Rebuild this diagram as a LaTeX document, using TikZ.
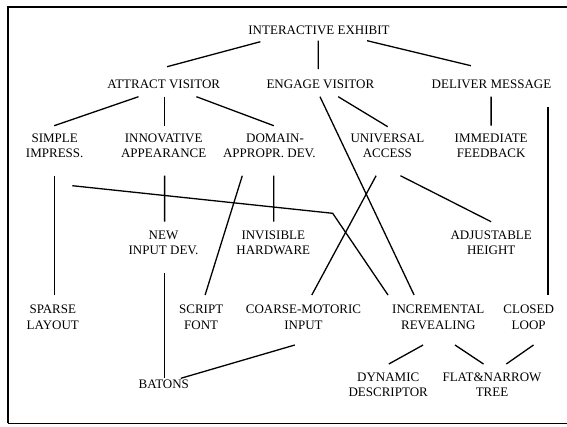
\documentclass[tikz,border=0pt]{standalone}
\usepackage{fontspec}
\setmainfont{Liberation Serif}
\newcommand\stt{\rule[-5.5pt]{0pt}{15.3pt}}
\begin{document}
\begin{tikzpicture}[x=1pt,y=-1pt,
  lbl/.style={inner sep=0pt, align=center, font=\fontsize{13}{15.3}\selectfont},
  link/.style={line width=1.3pt},
  frameline/.style={line width=2pt}]
\useasboundingbox (0,0) rectangle (567,426);
% frame
\coordinate (ftr) at (567,6.5);
\coordinate (ftl) at (7.5,6.5);
\coordinate (fbl) at (7.5,423.3);
\coordinate (fbr) at (567,423.3);
\draw[frameline] (ftr) -- (ftl) -- (fbl);
\draw[line width=1.2pt] (fbl) -- (fbr);
% nodes
\node[lbl] (IE) at (319,32) {\stt INTERACTIVE EXHIBIT};
\node[lbl] (AV) at (163.7,86) {\stt ATTRACT VISITOR};
\node[lbl] (EV) at (320.4,86) {\stt ENGAGE VISITOR};
\node[lbl] (DM) at (491.5,86) {\stt DELIVER MESSAGE};
\node[lbl] (SI) at (54.7,148) {\stt SIMPLE\\\stt IMPRESS.};
\node[lbl] (IN) at (163.7,148) {\stt INNOVATIVE\\\stt APPEARANCE};
\node[lbl] (DO) at (269.4,148) {\stt\hspace*{11.2pt}DOMAIN-\\\stt APPROPR. DEV.};
\node[lbl] (UA) at (387.4,148) {\stt UNIVERSAL\\\stt ACCESS};
\node[lbl] (IF) at (491.2,148) {\stt IMMEDIATE\\\stt FEEDBACK};
\node[lbl] (NEW) at (163.5,244.8) {\stt NEW\\\stt INPUT DEV.};
\node[lbl] (IH) at (273.3,244.8) {\stt INVISIBLE\\\stt HARDWARE};
\node[lbl] (AH) at (491.2,244.8) {\stt ADJUSTABLE\\\stt HEIGHT};
\node[lbl] (SL) at (52.8,319.2) {\stt SPARSE\\\stt LAYOUT};
\node[lbl] (SF) at (201.2,319.2) {\stt SCRIPT\\\stt FONT};
\node[lbl] (CM) at (303.5,319.2) {\stt COARSE-MOTORIC\\\stt INPUT};
\node[lbl] (IR) at (438.3,319.2) {\stt INCREMENTAL\\\stt REVEALING};
\node[lbl] (CL) at (528.7,319.2) {\stt CLOSED\\\stt LOOP};
\node[lbl] (DD) at (388.2,386.7) {\stt DYNAMIC\\\stt DESCRIPTOR};
\node[lbl] (FN) at (492,386.7) {\stt FLAT\&NARROW\\\stt TREE};
\node[lbl] (BA) at (163.8,386.7) {\stt BATONS};
% connectors
\draw[link] ([shift={(-58.6,9.7)}]IE.center) -- ([shift={(3.4,-19.3)}]AV.center);
\draw[link] ([shift={(-0.7,8.7)}]IE.center) -- ([shift={(-2.1,-17)}]EV.center);
\draw[link] ([shift={(48.1,8.7)}]IE.center) -- ([shift={(-20.6,-20.3)}]DM.center);
\draw[link] ([shift={(-25.2,10.7)}]AV.center) -- ([shift={(-0.5,-22.3)}]SI.center);
\draw[link] ([shift={(0.9,10.7)}]AV.center) -- ([shift={(0.9,-22.3)}]IN.center);
\draw[link] ([shift={(32.7,10.7)}]AV.center) -- ([shift={(4.4,-22.3)}]DO.center);
\draw[link] ([shift={(-0.4,10.7)}]EV.center) -- ([shift={(-24.2,-24.2)}]IR.center);
\draw[link] ([shift={(17.8,10.7)}]EV.center) -- ([shift={(0.3,-21.3)}]UA.center);
\draw[link] ([shift={(-0.4,10.7)}]DM.center) -- ([shift={(-0.1,-22.3)}]IF.center);
\draw[link] ([shift={(56.5,20.7)}]DM.center) -- ([shift={(19.3,-24.2)}]CL.center);
\draw[link] ([shift={(-0.5,27.7)}]SI.center) -- ([shift={(1.4,-24.2)}]SL.center);
\coordinate (bend) at (332.7,213.3);
\draw[link] ([shift={(17.6,37.7)}]SI.center) -- (bend) -- ([shift={(-50.3,-24.2)}]IR.center);
\draw[link] ([shift={(0.9,27.7)}]IN.center) -- ([shift={(1.1,-23.1)}]NEW.center);
\draw[link] ([shift={(-27.1,27.7)}]DO.center) -- ([shift={(3.9,-24.2)}]SF.center);
\draw[link] ([shift={(4.4,27.7)}]DO.center) -- ([shift={(0.5,-23.1)}]IH.center);
\draw[link] ([shift={(-11.3,27.7)}]UA.center) -- ([shift={(8.3,-24.2)}]CM.center);
\draw[link] ([shift={(13,27.7)}]UA.center) -- ([shift={(-0.1,-23.1)}]AH.center);
\draw[link] ([shift={(1.1,28.5)}]NEW.center) -- ([shift={(0.8,-8.4)}]BA.center);
\draw[link] ([shift={(-8.7,25.8)}]CM.center) -- ([shift={(17,-8.4)}]BA.center);
\draw[link] ([shift={(-15.2,25.8)}]IR.center) -- ([shift={(0.6,-22.7)}]DD.center);
\draw[link] ([shift={(16.7,25.8)}]IR.center) -- ([shift={(-8.5,-22.7)}]FN.center);
\draw[link] ([shift={(4.8,25.8)}]CL.center) -- ([shift={(14.3,-22.7)}]FN.center);
\end{tikzpicture}
\end{document}
